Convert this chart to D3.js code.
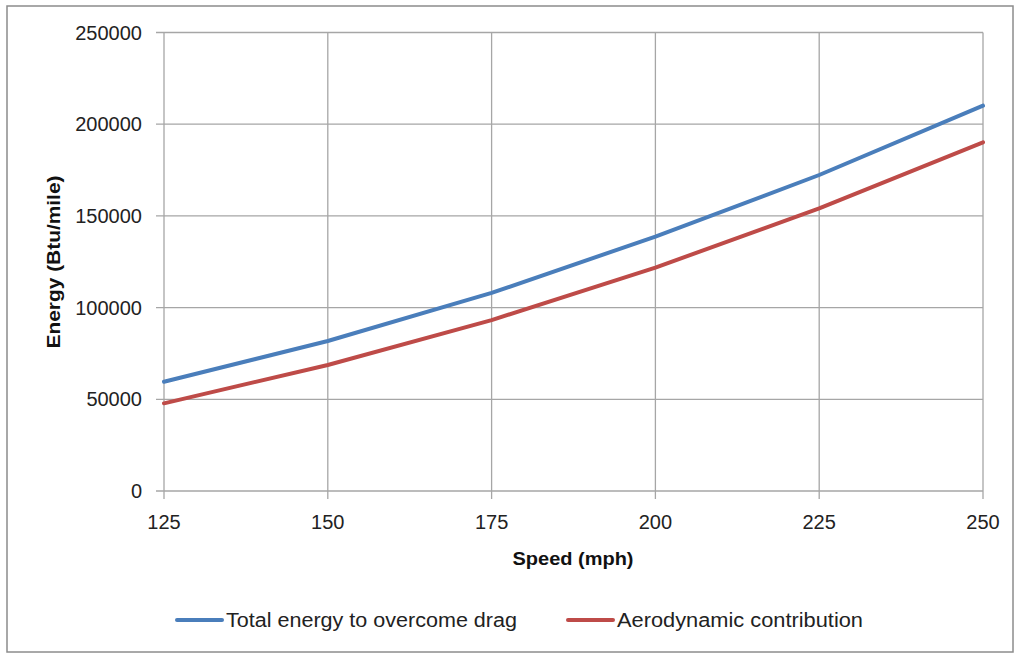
<!DOCTYPE html>
<html><head><meta charset="utf-8">
<script src="https://cdn.jsdelivr.net/npm/d3@7"></script>
<style>body{margin:0;background:#fff}svg{display:block}text{font-family:"Liberation Sans",Arial,sans-serif}</style>
</head><body><svg id="c" width="1016" height="654"></svg>
<script>
const speeds = [125, 150, 175, 200, 225, 250];
const totalEnergy = [59600, 81800, 108000, 138700, 172300, 210100];
const aeroEnergy = [47800, 68700, 93200, 121800, 154100, 190100];
const xTicks = [125, 150, 175, 200, 225, 250];
const yTicks = [0, 50000, 100000, 150000, 200000, 250000];
const seriesNames = ["Total energy to overcome drag", "Aerodynamic contribution"];
const colors = ["#4a7ebb", "#be4b48"];

const svg = d3.select("#c");
svg.append("rect").attr("x",7).attr("y",6).attr("width",1006).attr("height",646)
  .attr("fill","#fff").attr("stroke","#8c8c8c").attr("stroke-width",1.5);

const x = d3.scaleLinear().domain([125,250]).range([164,983]);
const y = d3.scaleLinear().domain([0,250000]).range([491,32.5]);
const grid = "#a6a6a6";

const g = svg.append("g");
g.selectAll(".hg").data(yTicks).join("line")
  .attr("x1",156).attr("x2",983).attr("y1",d=>y(d)).attr("y2",d=>y(d))
  .attr("stroke",grid).attr("stroke-width",1.3);
g.selectAll(".vg").data(xTicks).join("line")
  .attr("x1",d=>x(d)).attr("x2",d=>x(d)).attr("y1",y(250000)).attr("y2",499)
  .attr("stroke",grid).attr("stroke-width",1.3);

g.selectAll(".yl").data(yTicks).join("text")
  .attr("x",142).attr("y",d=>y(d)).attr("dy","0.35em").attr("text-anchor","end")
  .attr("font-size",20).attr("fill","#222").text(d=>d);
g.selectAll(".xl").data(xTicks).join("text")
  .attr("x",d=>x(d)).attr("y",522).attr("dy","0.35em").attr("text-anchor","middle")
  .attr("font-size",20).attr("fill","#222").text(d=>d);

svg.append("text").attr("x",573).attr("y",558).attr("dy","0.35em").attr("text-anchor","middle")
  .attr("font-size",19).attr("font-weight","bold").attr("fill","#111")
  .attr("textLength",121).attr("lengthAdjust","spacingAndGlyphs").text("Speed (mph)");
svg.append("text").attr("transform","translate(53,262) rotate(-90)").attr("dy","0.35em")
  .attr("text-anchor","middle").attr("font-size",19).attr("font-weight","bold").attr("fill","#111")
  .attr("textLength",173).attr("lengthAdjust","spacingAndGlyphs")
  .text("Energy (Btu/mile)");

const line = d3.line().x((d,i)=>x(speeds[i])).y(d=>y(d));
[totalEnergy, aeroEnergy].forEach((s,k)=>{
  svg.append("path").attr("d",line(s)).attr("fill","none").attr("stroke",colors[k])
    .attr("stroke-width",4).attr("stroke-linejoin","round").attr("stroke-linecap","round");
});

const legX = [177, 568];
const legLen = [291, 246];
seriesNames.forEach((n,k)=>{
  svg.append("line").attr("x1",legX[k]).attr("x2",legX[k]+45).attr("y1",620).attr("y2",620)
    .attr("stroke",colors[k]).attr("stroke-width",4).attr("stroke-linecap","round");
  svg.append("text").attr("x",legX[k]+49).attr("y",620).attr("dy","0.35em")
    .attr("font-size",20).attr("fill","#222")
    .attr("textLength",legLen[k]).attr("lengthAdjust","spacingAndGlyphs").text(n);
});
</script></body></html>
